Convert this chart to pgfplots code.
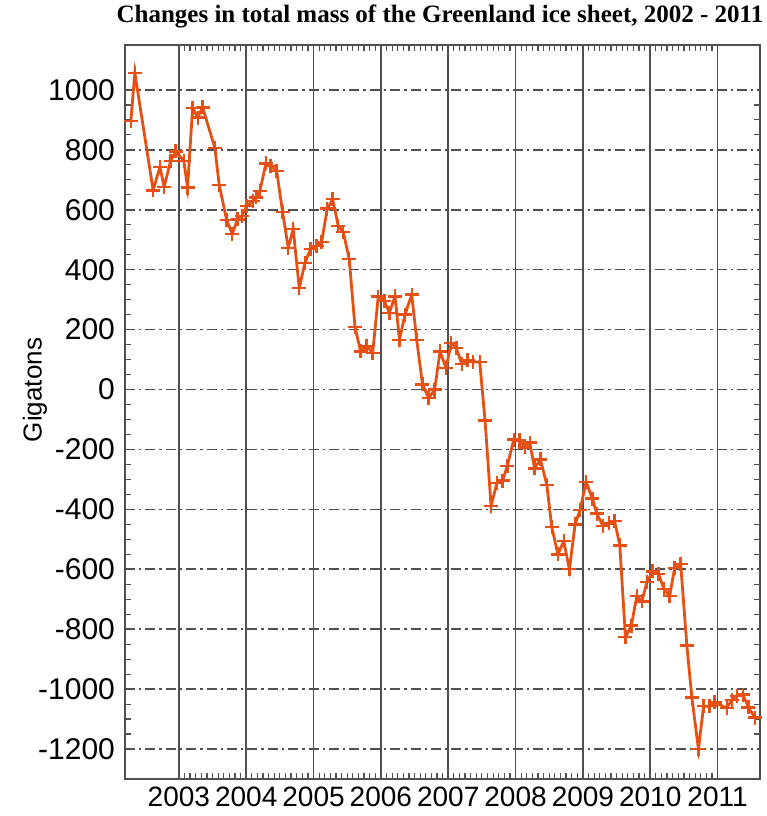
\documentclass[border=0pt]{standalone}
\usepackage{pgfplots}
\pgfplotsset{compat=1.18}
\usepackage{fontspec}
\setmainfont{Liberation Sans}
\newfontfamily\titlefont{Liberation Serif}
\definecolor{lineor}{RGB}{230,80,20}
\definecolor{gridc}{RGB}{80,80,80}
\begin{document}
\begin{tikzpicture}
\begin{axis}[
  at={(0,0)}, anchor=south west,
  width=317.5pt, height=367pt, scale only axis,
  xmin=2002.2, xmax=2011.63, ymin=-1300, ymax=1150,
  xtick={2003,2004,2005,2006,2007,2008,2009,2010,2011},
  xticklabels={2003,2004,2005,2006,2007,2008,2009,2010,2011},
  minor x tick num=11,
  ytick={-1200,-1000,-800,-600,-400,-200,0,200,400,600,800,1000},
  yticklabels={-1200,-1000,-800,-600,-400,-200,0,200,400,600,800,1000},
  minor y tick num=3,
  major tick length=0pt, minor tick length=3pt,
  tick style={gridc, line width=0.6pt},
  xmajorgrids, ymajorgrids,
  every axis x grid/.style={gridc, line width=0.8pt},
  every axis y grid/.style={gridc, line width=0.8pt, dash pattern=on 5pt off 2pt on 1.2pt off 2pt},
  axis line style={gridc, line width=0.9pt},
  yticklabel style={font=\fontsize{15}{15}\selectfont, xshift=-1.5pt},
  xticklabel style={font=\fontsize{14}{14}\selectfont, yshift=-0.5pt},
  ylabel={Gigatons},
  ylabel style={font=\fontsize{13}{13}\selectfont, at={(axis description cs:-0.142,0.53)}, anchor=center},
  title={\titlefont\bfseries Changes in total mass of the Greenland ice sheet, 2002 - 2011},
  title style={font=\fontsize{12.5}{12.5}\selectfont, at={(axis description cs:0.496,1)}, anchor=center, yshift=8.5pt},
]
\addplot[lineor, line width=1.4pt, mark=+, mark size=3.5pt, mark options={solid, line width=1.2pt}] table {
x y
2002.287 897
2002.346 1057
2002.618 665
2002.718 743
2002.782 677
2002.877 763
2002.951 795
2003.074 763
2003.129 674
2003.204 940
2003.282 908
2003.352 942
2003.535 806
2003.599 683
2003.709 566
2003.792 520
2003.872 568
2003.936 579
2004.006 612
2004.104 630
2004.144 641
2004.204 663
2004.293 755
2004.363 746
2004.452 730
2004.541 592
2004.624 473
2004.698 535
2004.788 339
2004.872 423
2004.957 470
2005.046 479
2005.120 492
2005.204 604
2005.284 635
2005.367 546
2005.441 526
2005.530 436
2005.615 209
2005.700 127
2005.789 144
2005.878 122
2005.961 310
2006.053 295
2006.125 256
2006.210 311
2006.276 166
2006.358 250
2006.458 317
2006.532 166
2006.618 17
2006.710 -29
2006.799 0
2006.878 127
2006.967 72
2007.045 155
2007.120 139
2007.201 85
2007.287 97
2007.369 92
2007.468 92
2007.547 -103
2007.636 -388
2007.725 -311
2007.807 -304
2007.878 -255
2007.973 -167
2008.056 -170
2008.137 -193
2008.211 -177
2008.282 -263
2008.369 -233
2008.464 -318
2008.538 -459
2008.629 -550
2008.716 -506
2008.800 -600
2008.884 -450
2008.958 -402
2009.048 -308
2009.140 -364
2009.207 -414
2009.300 -456
2009.389 -447
2009.471 -439
2009.548 -520
2009.632 -827
2009.719 -788
2009.801 -690
2009.878 -707
2009.949 -643
2010.036 -607
2010.122 -615
2010.202 -665
2010.288 -690
2010.363 -595
2010.452 -582
2010.544 -855
2010.618 -1028
2010.716 -1200
2010.793 -1057
2010.882 -1057
2010.957 -1044
2011.136 -1063
2011.211 -1036
2011.286 -1022
2011.375 -1018
2011.459 -1061
2011.554 -1095
};
\end{axis}
\pgfresetboundingbox
\path[use as bounding box] (-62.5pt,-18.5pt) rectangle (321pt,389.5pt);
\end{tikzpicture}
\end{document}
